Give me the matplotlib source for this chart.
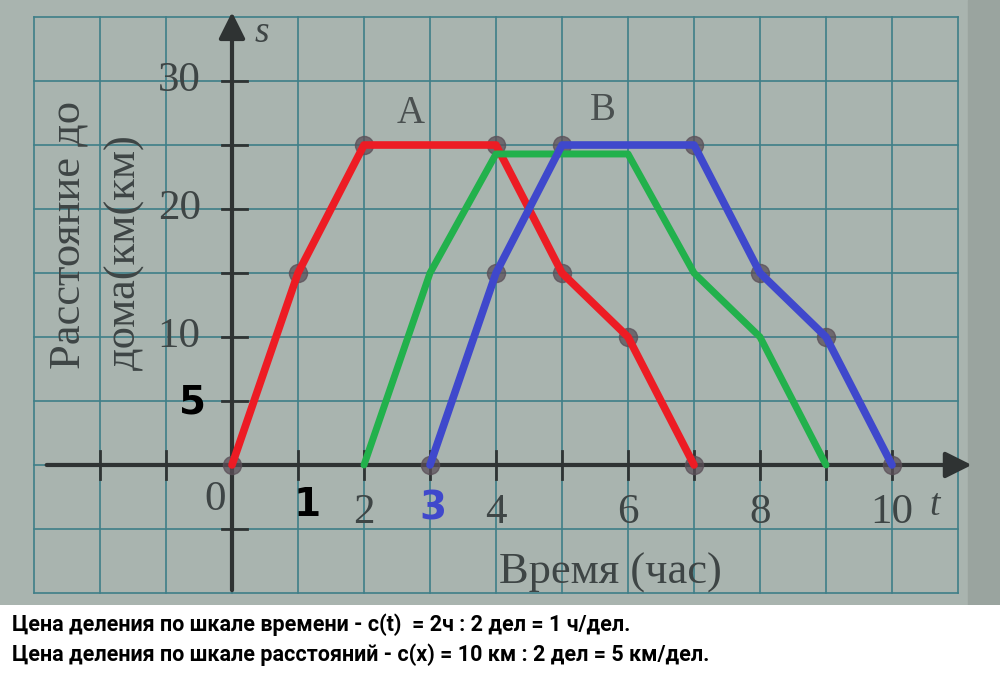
import matplotlib.pyplot as plt
import numpy as np

# данные графиков (время, ч ; расстояние, км)
t_red = [0, 1, 2, 4, 5, 6, 7]
s_red = [0, 15, 25, 25, 15, 10, 0]
t_green = [2, 3, 4, 6, 7, 8, 9]
s_green = [0, 15, 24.3, 24.3, 15, 10, 0]
t_blue = [3, 4, 5, 7, 8, 9, 10]
s_blue = [0, 15, 25, 25, 15, 10, 0]

x_ticks = [-2, -1, 1, 2, 3, 4, 5, 6, 7, 8, 9, 10]
x_labels = [2, 4, 6, 8, 10]
y_ticks = [-5, 5, 10, 15, 20, 25, 30]
y_labels = [10, 20, 30]

paper = '#a9b4af'
grid_c = '#3f7f88'
ink = '#2f3333'
gray_txt = '#3e4545'

fig = plt.figure(figsize=(10, 6.8), dpi=100)
fig.patch.set_facecolor('white')
ax = fig.add_axes([0, 75 / 680, 1, 605 / 680])
ax.set_xlim(-3.515, 11.636)
ax.set_ylim(-10.94, 36.33)
ax.set_facecolor(paper)
for sp in ax.spines.values():
    sp.set_visible(False)
ax.set_xticks([])
ax.set_yticks([])

# тень справа от листа
ax.axvspan(11.15, 11.636, color='#9aa49f', zorder=0)

# сетка
for gx in range(-3, 12):
    ax.plot([gx, gx], [-10, 35], color=grid_c, lw=1.2, zorder=1)
for gy in range(-10, 36, 5):
    ax.plot([-3, 11], [gy, gy], color=grid_c, lw=1.2, zorder=1)

# оси
ax.annotate('', xy=(11.25, 0), xytext=(-2.85, 0),
            arrowprops=dict(arrowstyle='-|>', color=ink, lw=3, mutation_scale=40), zorder=3)
ax.annotate('', xy=(0, 35.6), xytext=(0, -10),
            arrowprops=dict(arrowstyle='-|>', color=ink, lw=3, mutation_scale=40), zorder=3)
for xt in x_ticks:
    ax.plot([xt, xt], [-1.1, 1.1], color=ink, lw=2, zorder=3)
for yt in y_ticks:
    ax.plot([-0.15, 0.22], [yt, yt], color=ink, lw=2, zorder=3)

# подписи шкал
serif = 'Liberation Serif'
for v in y_labels:
    ax.text(-0.8, v, str(v), fontsize=31, family=serif, color=gray_txt,
            ha='center', va='center', zorder=4)
for v in x_labels:
    ax.text(v, -3.7, str(v), fontsize=31, family=serif, color=gray_txt,
            ha='center', va='center', zorder=4)
ax.text(-0.26, -2.7, '0', fontsize=31, family=serif, color=gray_txt,
        ha='center', va='center', zorder=4)
ax.text(0.45, 33.8, 's', fontsize=27, family=serif, style='italic', color=gray_txt,
        ha='center', va='center')
ax.text(10.65, -3.2, 't', fontsize=27, family=serif, style='italic', color=gray_txt,
        ha='center', va='center')
ax.text(2.7, 27.5, 'A', fontsize=28, family=serif, color='#4a5050', ha='center', va='center')
ax.text(5.62, 27.7, 'B', fontsize=28, family=serif, color='#4a5050', ha='center', va='center')
ax.text(-2.48, 18.0, 'Расстояние до', fontsize=32, family=serif, color=gray_txt,
        rotation=90, ha='center', va='center')
ax.text(-1.62, 16.6, 'дома(км(км)', fontsize=32, family=serif, color=gray_txt,
        rotation=90, ha='center', va='center')
ax.text(5.73, -8.4, 'Время (час)', fontsize=32, family=serif, color=gray_txt,
        ha='center', va='center')

# точки из учебника
dot = dict(marker='o', ms=13, color='#5b4f58', ls='none', alpha=0.75, zorder=4)
ax.plot(t_red, s_red, **dot)
ax.plot(t_blue, s_blue, **dot)

# ломаные
ax.plot(t_red, s_red, color='#ed1c24', lw=5.5, solid_capstyle='round', zorder=5)
ax.plot(t_green, s_green, color='#22b14c', lw=5, solid_capstyle='round', zorder=5)
ax.plot(t_blue, s_blue, color='#3f48cc', lw=5.5, solid_capstyle='round', zorder=6)

# дописанные числа
ax.text(-0.6, 4.9, '5', fontsize=28, weight='bold', color='black', ha='center', va='center', zorder=7)
ax.text(1.14, -3.1, '1', fontsize=28, weight='bold', color='black', ha='center', va='center', zorder=7)
ax.text(3.05, -3.4, '3', fontsize=28, weight='bold', color='#3f48cc', ha='center', va='center', zorder=7)

# пояснения снизу
note_font = ['Roboto', 'DejaVu Sans']
fig.text(0.012, 1 - 625 / 680, 'Цена деления по шкале времени - c(t)  = 2ч : 2 дел = 1 ч/дел.',
         fontsize=15.5, weight='bold', family=note_font, va='center')
fig.text(0.012, 1 - 655 / 680, 'Цена деления по шкале расстояний - c(x) = 10 км : 2 дел = 5 км/дел.',
         fontsize=15.5, weight='bold', family=note_font, va='center')

plt.savefig('out.png', dpi=100)
